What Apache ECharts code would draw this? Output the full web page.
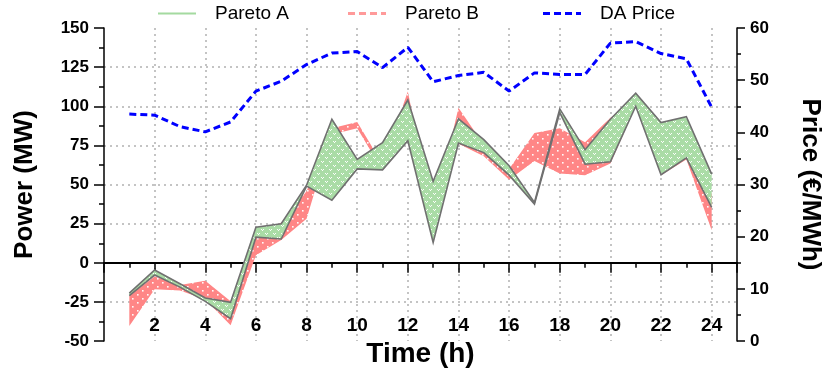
<!DOCTYPE html>
<html>
<head>
<meta charset="utf-8">
<script src="https://cdn.jsdelivr.net/npm/echarts@6/dist/echarts.min.js"></script>
<style>
html,body{margin:0;padding:0;background:#fff;}
#chart{width:831px;height:373px;}
</style>
</head>
<body>
<div id="chart"></div>
<script>
// ---- data ----
const hours = [1,2,3,4,5,6,7,8,9,10,11,12,13,14,15,16,17,18,19,20,21,22,23,24];
const paretoAUpper = [-19.3,-4.6,-13.4,-22.5,-25.2,22.8,25.0,49.6,91.7,66.0,76.7,104.0,52.0,92.0,78.7,62.0,38.5,98.3,72.3,91.7,108.3,89.6,93.3,56.7];
const paretoALower = [-21.0,-7.8,-15.5,-24.6,-35.7,16.4,15.2,49.0,40.0,60.0,59.4,78.0,13.0,76.5,70.4,56.0,37.5,96.0,63.0,64.6,100.0,56.3,67.0,35.4];
const paretoBUpper = [-21.0,-8.8,-14.1,-11.5,-24.6,16.4,25.8,45.8,86.0,90.0,63.0,109.4,30.0,99.0,75.5,60.0,83.0,86.0,77.0,92.7,104.0,88.0,90.0,43.7];
const paretoBLower = [-40.3,-16.8,-17.6,-23.5,-39.9,4.8,14.6,28.1,82.0,86.0,59.0,78.0,14.0,76.0,68.0,53.0,65.0,57.0,56.0,63.5,100.0,56.0,66.0,20.8];
const daPrice = [43.5,43.3,41.1,40.1,42.0,47.9,49.8,53.0,55.2,55.5,52.4,56.3,49.7,50.9,51.5,47.9,51.4,51.1,51.1,57.1,57.4,55.1,54.1,44.8];
const powerTicks = {min:-50, max:150, step:25};
const priceTicks = {min:0, max:60, step:10};
const timeTicks = {min:0, max:25, step:2};

// ---- patterns ----
function patternCanvas(w, h, bg, draw) {
  const c = document.createElement('canvas');
  c.width = w; c.height = h;
  const g = c.getContext('2d');
  g.fillStyle = bg; g.fillRect(0, 0, w, h);
  draw(g);
  return c;
}
const greenPat = patternCanvas(8, 8, '#aadca6', g => {
  g.fillStyle = 'rgba(255,255,255,0.95)';
  [[1,1],[5,5]].forEach(([x,y]) => {
    g.fillRect(x, y, 1, 1); g.fillRect(x+2, y, 1, 1); g.fillRect(x+1, y+1, 1, 1);
  });
});
const redPat = patternCanvas(10, 8, '#ff8686', g => {
  g.fillStyle = 'rgba(255,255,255,0.95)';
  [[2,2],[7,6]].forEach(([x,y]) => { g.fillRect(x, y, 1.6, 1.6); });
});

const bandRows = (lo, up) => hours.map((h, i) => [h, lo[i], up[i]]);
const pairs = arr => hours.map((h, i) => [h, arr[i]]);

function bandRenderer(fill, edge, edgeWidth) {
  return function (params, api) {
    if (params.dataIndexInside !== 0) return null;
    const n = params.dataInsideLength;
    const up = [], lo = [];
    for (let i = 0; i < n; i++) {
      up.push(api.coord([api.value(0, i), api.value(2, i)]));
      lo.push(api.coord([api.value(0, i), api.value(1, i)]));
    }
    const poly = up.concat(lo.slice().reverse());
    const children = [{type:'polygon', shape:{points:poly}, style:{fill:fill, stroke:null}}];
    if (edge) {
      children.push({type:'polyline', shape:{points:up}, style:{fill:null, stroke:edge, lineWidth:edgeWidth}});
      children.push({type:'polyline', shape:{points:lo}, style:{fill:null, stroke:edge, lineWidth:edgeWidth}});
    }
    return {type:'group', children:children};
  };
}

const FONT = 'Liberation Sans, Arial, Helvetica, sans-serif';
const gridDot = {show:true, showMinLine:false, showMaxLine:false, lineStyle:{color:'#c4c4c4', width:2, type:[2,4]}};
const solidIcon = 'path://M0,0H38V2H0Z';
const dashIcon = 'path://M0,0H7V3H0Z M11,0H18V3H11Z M22,0H29V3H22Z M33,0H38V3H33Z';
const legendText = {fontSize:19, color:'#000', fontFamily:FONT, padding:[0,0,0,14]};
const legendBase = {top:4, padding:0, itemWidth:38, itemHeight:3, textStyle:legendText};

const chart = echarts.init(document.getElementById('chart'), null, {renderer:'canvas'});
chart.setOption({
  animation: false,
  textStyle: {fontFamily: FONT},
  grid: {left:104, right:92, top:28, bottom:28, containLabel:false},
  legend: [
    Object.assign({left:158, itemHeight:2, data:[{name:'Pareto A', icon:solidIcon, itemStyle:{color:'#a4daa0', borderWidth:0}}]}, {top:4, padding:0, itemWidth:38, textStyle:legendText}),
    Object.assign({left:348, data:[{name:'Pareto B', icon:dashIcon, itemStyle:{color:'#ff9a9a', borderWidth:0}}]}, legendBase),
    Object.assign({left:543, data:[{name:'DA Price', icon:dashIcon, itemStyle:{color:'#0000ff', borderWidth:0}}]}, legendBase)
  ],
  xAxis: [
    { // zero line with short ticks at every hour
      type:'value', min:timeTicks.min, max:timeTicks.max, interval:1, position:'bottom',
      axisLine:{show:true, onZero:true, onZeroAxisIndex:0, lineStyle:{color:'#000', width:2}},
      axisTick:{show:true, length:5, lineStyle:{color:'#000', width:1.5}},
      axisLabel:{show:false}, splitLine:{show:false}
    },
    { // zero line with long ticks at even hours + vertical grid
      type:'value', min:timeTicks.min, max:timeTicks.max, interval:timeTicks.step, position:'bottom',
      axisLine:{show:true, onZero:true, onZeroAxisIndex:0, lineStyle:{color:'#000', width:2}},
      axisTick:{show:true, length:10, lineStyle:{color:'#000', width:1.5}},
      axisLabel:{show:false}, splitLine:gridDot
    },
    { // bottom labels
      type:'value', min:timeTicks.min, max:timeTicks.max, interval:timeTicks.step, position:'bottom', offset:-34,
      axisLine:{show:false, onZero:false}, axisTick:{show:false}, splitLine:{show:false},
      axisLabel:{show:true, margin:9, fontSize:19, fontWeight:'bold', color:'#000', fontFamily:FONT,
        formatter: v => (v > timeTicks.min && v < timeTicks.max) ? String(v) : ''},
      name:'Time (h)', nameLocation:'middle', nameGap:27,
      nameTextStyle:{fontSize:28, fontWeight:'bold', color:'#000', fontFamily:FONT}
    }
  ],
  yAxis: [
    {
      type:'value', min:powerTicks.min, max:powerTicks.max, interval:powerTicks.step, position:'left',
      axisLine:{show:true, onZero:false, lineStyle:{color:'#000', width:1.5}},
      axisTick:{show:true, length:10, lineStyle:{color:'#000', width:1.5}},
      minorTick:{show:true, splitNumber:2, length:5, lineStyle:{color:'#000', width:1.5}},
      axisLabel:{margin:15, fontSize:17, fontWeight:'bold', color:'#000', fontFamily:FONT},
      splitLine:gridDot,
      name:'Power (MW)', nameLocation:'middle', nameRotate:90, nameGap:66,
      nameTextStyle:{fontSize:26, fontWeight:'bold', color:'#000', fontFamily:FONT}
    },
    {
      type:'value', min:priceTicks.min, max:priceTicks.max, interval:priceTicks.step, position:'right',
      axisLine:{show:true, onZero:false, lineStyle:{color:'#000', width:1.5}},
      axisTick:{show:true, length:8, lineStyle:{color:'#000', width:1.5}},
      minorTick:{show:true, splitNumber:2, length:4, lineStyle:{color:'#000', width:1.5}},
      axisLabel:{margin:13, fontSize:17, fontWeight:'bold', color:'#000', fontFamily:FONT},
      splitLine:{show:false},
      name:'Price (€/MWh)', nameLocation:'middle', nameRotate:-90, nameGap:60,
      nameTextStyle:{fontSize:26, fontWeight:'bold', color:'#000', fontFamily:FONT}
    }
  ],
  series: [
    {name:'Pareto B', type:'custom', coordinateSystem:'cartesian2d', xAxisIndex:0, yAxisIndex:0,
      data:bandRows(paretoBLower, paretoBUpper), encode:{x:0, y:[1,2]},
      itemStyle:{color:'#ff9a9a'}, clip:true, z:2,
      renderItem:bandRenderer({image:redPat, repeat:'repeat'}, null, 0)},
    {name:'Pareto A', type:'custom', coordinateSystem:'cartesian2d', xAxisIndex:0, yAxisIndex:0,
      data:bandRows(paretoALower, paretoAUpper), encode:{x:0, y:[1,2]},
      itemStyle:{color:'#a4daa0'}, clip:true, z:3,
      renderItem:bandRenderer({image:greenPat, repeat:'repeat'}, '#707070', 1.6)},
    {name:'DA Price', type:'line', xAxisIndex:0, yAxisIndex:1, data:pairs(daPrice), symbol:'none',
      lineStyle:{color:'#0000ff', width:3, type:[7,4]}, itemStyle:{color:'#0000ff'}, z:4}
  ]
});
</script>
</body>
</html>
